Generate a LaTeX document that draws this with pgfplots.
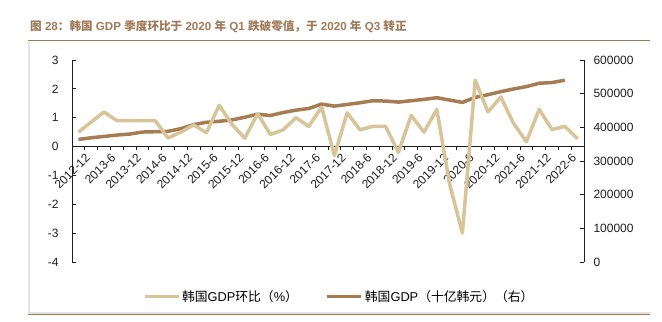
\documentclass[border=0pt]{standalone}
\usepackage{pgfplots}
\pgfplotsset{compat=1.18}
\usepackage{fontspec}
\setmainfont{Liberation Sans}
\newfontfamily\cjk{Noto Sans CJK SC}
\newcommand\C[1]{{\cjk #1}}
\definecolor{lightline}{RGB}{215,196,152}
\definecolor{darkline}{RGB}{166,124,82}
\definecolor{titlebrown}{RGB}{160,122,88}
\definecolor{axcol}{RGB}{30,30,30}
\begin{document}
\begin{tikzpicture}
\path[use as bounding box] (0,0) rectangle (662bp,322bp);
% title and frame
\node[anchor=west, text=titlebrown, font=\fontsize{11.6bp}{13bp}\selectfont\bfseries, inner sep=0pt] at (30bp,295bp)
 {\C{图} 28\C{：韩国} GDP \C{季度环比于} 2020 \C{年} Q1 \C{跌破零值，于} 2020 \C{年} Q3 \C{转正}};
\draw[gray!22, line width=1.5bp] (29bp,280bp) -- (29bp,9bp) -- (650bp,9bp);
\draw[titlebrown, line width=0.9bp] (28bp,281.3bp) -- (650bp,281.3bp);
\draw[darkline, line width=1bp] (28bp,7bp) -- (650bp,7bp);
\pgfplotsset{
  every tick label/.append style={font=\fontsize{12bp}{14bp}\selectfont, text=axcol},
  /pgf/number format/assume math mode=true,
}
% right axis: GDP level
\begin{axis}[
  at={(72bp,60bp)}, anchor=south west, scale only axis,
  width=512bp, height=202bp,
  xmin=-0.5, xmax=39.5, ymin=0, ymax=600000,
  axis x line=none, axis y line*=right,
  xtick=\empty,
  ytick={0,100000,...,600000},
  scaled y ticks=false,
  yticklabel style={/pgf/number format/fixed, /pgf/number format/1000 sep={}, anchor=west, xshift=6bp},
  tick align=inside, major tick length=4bp,
  axis line style={axcol, line width=0.8bp},
  tick style={axcol, line width=0.8bp},
  clip=false,
]
\addplot[darkline, line width=3.5bp, line join=round] coordinates {
(0,364000) (1,369000) (2,373000) (3,377000) (4,380000) (5,386000) (6,387000) (7,388000)
(8,396000) (9,408000) (10,415000) (11,418000) (12,422000) (13,430000) (14,439000) (15,435000)
(16,444000) (17,451000) (18,456000) (19,469000) (20,463000) (21,468000) (22,473000) (23,479000)
(24,478000) (25,475000) (26,479000) (27,483000) (28,488000) (29,481000) (30,474000) (31,489000)
(32,497000) (33,506000) (34,514000) (35,521000) (36,531000) (37,533000) (38,540000)
};
\end{axis}
% x axis at zero level
\begin{axis}[
  at={(72bp,176bp)}, anchor=south west, scale only axis,
  width=512bp, height=86bp,
  xmin=-0.5, xmax=39.5, ymin=0, ymax=1,
  axis y line=none, axis x line*=bottom,
  xtick={0,2,...,38},
  xticklabels={2012-12,2013-6,2013-12,2014-6,2014-12,2015-6,2015-12,2016-6,2016-12,2017-6,2017-12,2018-6,2018-12,2019-6,2019-12,2020-6,2020-12,2021-6,2021-12,2022-6},
  minor xtick={-0.5,0.5,...,39.5},
  major x tick style={draw=none},
  tick align=outside, minor tick length=4bp,
  xticklabel style={rotate=45, anchor=north east, inner sep=1bp, xshift=4bp, yshift=-5bp},
  axis line style={axcol, line width=0.8bp},
  tick style={axcol, line width=0.8bp},
]
\end{axis}
% left axis: QoQ growth
\begin{axis}[
  at={(72bp,60bp)}, anchor=south west, scale only axis,
  width=512bp, height=202bp,
  xmin=-0.5, xmax=39.5, ymin=-4, ymax=3,
  axis x line=none, axis y line*=left,
  xtick=\empty,
  ytick={-4,-3,...,3},
  yticklabel style={anchor=east, xshift=-10bp},
  tick align=inside, major tick length=4bp,
  axis line style={axcol, line width=0.8bp},
  tick style={axcol, line width=0.8bp},
  clip=false,
  legend cell align=left,
  legend style={at={(0.522,-0.173)}, anchor=center, draw=none, fill=none,
    legend columns=2, font=\fontsize{12.8bp}{14bp}\selectfont, inner sep=0pt,
    /tikz/every even column/.append style={column sep=26bp}},
  legend image code/.code={\draw[#1, line width=3bp] (0bp,0bp) -- (34bp,0bp);},
]
\addplot[lightline, line width=3.5bp, line join=round] coordinates {
(0,0.5) (1,0.85) (2,1.2) (3,0.9) (4,0.9) (5,0.9) (6,0.9) (7,0.3)
(8,0.5) (9,0.75) (10,0.48) (11,1.43) (12,0.77) (13,0.29) (14,1.14) (15,0.42)
(16,0.58) (17,1.0) (18,0.7) (19,1.37) (20,-0.31) (21,1.17) (22,0.58) (23,0.7)
(24,0.7) (25,-0.2) (26,1.08) (27,0.5) (28,1.29) (29,-1.3) (30,-3.0) (31,2.3)
(32,1.2) (33,1.72) (34,0.8) (35,0.17) (36,1.29) (37,0.59) (38,0.7) (39,0.27)
};
\addlegendentry{\C{韩国}GDP\C{环比（}\%\C{）}}
\addlegendimage{darkline}
\addlegendentry{\C{韩国}GDP\C{（十亿韩元）（右）}}
\end{axis}
\end{tikzpicture}
\end{document}
